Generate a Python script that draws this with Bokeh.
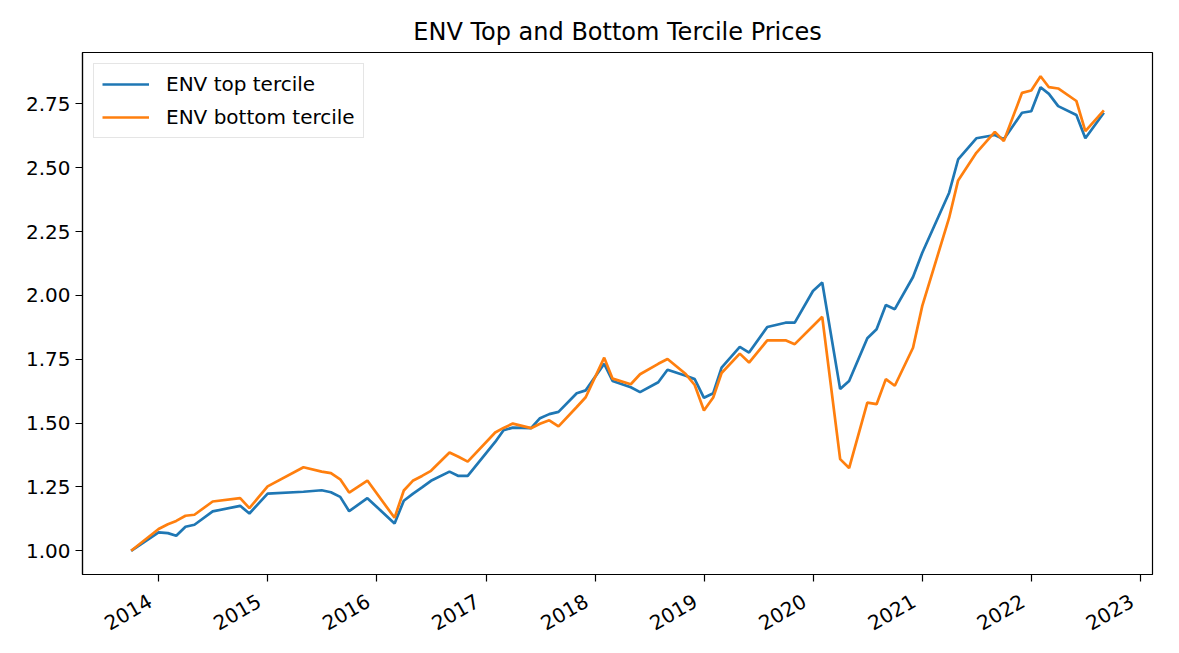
import math
import pandas as pd
from bokeh.plotting import figure
from bokeh.models import Range1d, FixedTicker, DatetimeTickFormatter, NumeralTickFormatter
from bokeh.embed import file_html
from bokeh.resources import INLINE

# ---- data ----
dates = [
    "2013-09-30", "2013-12-31", "2014-01-31", "2014-02-28", "2014-03-31", "2014-04-30",
    "2014-06-30", "2014-09-30", "2014-10-31", "2014-12-31", "2015-04-30", "2015-06-30",
    "2015-07-31", "2015-08-31", "2015-09-30", "2015-11-30", "2016-02-29", "2016-03-31",
    "2016-04-30", "2016-05-31", "2016-06-30", "2016-08-31", "2016-09-30", "2016-10-31",
    "2017-01-31", "2017-02-28", "2017-03-31", "2017-05-31", "2017-06-30", "2017-07-31",
    "2017-08-31", "2017-10-31", "2017-11-30", "2018-01-31", "2018-02-28", "2018-04-30",
    "2018-05-31", "2018-07-31", "2018-08-31", "2018-10-31", "2018-11-30", "2018-12-31",
    "2019-01-31", "2019-02-28", "2019-04-30", "2019-05-31", "2019-07-31", "2019-09-30",
    "2019-10-31", "2019-12-31", "2020-01-31", "2020-03-31", "2020-04-30", "2020-06-30",
    "2020-07-31", "2020-08-31", "2020-09-30", "2020-11-30", "2020-12-31", "2021-03-31",
    "2021-04-30", "2021-06-30", "2021-08-31", "2021-09-30", "2021-11-30", "2021-12-31",
    "2022-01-31", "2022-02-28", "2022-03-31", "2022-05-31", "2022-06-30", "2022-08-31",
]

env_top = [
    1.000, 1.072, 1.069, 1.059, 1.094, 1.102,
    1.154, 1.176, 1.146, 1.224, 1.231, 1.237,
    1.229, 1.211, 1.155, 1.206, 1.107, 1.196,
    1.223, 1.248, 1.274, 1.310, 1.293, 1.293,
    1.426, 1.472, 1.482, 1.480, 1.519, 1.535,
    1.544, 1.617, 1.628, 1.732, 1.665, 1.640,
    1.621, 1.660, 1.709, 1.685, 1.672, 1.599,
    1.617, 1.717, 1.798, 1.776, 1.876, 1.893,
    1.893, 2.017, 2.050, 1.633, 1.665, 1.832,
    1.867, 1.962, 1.946, 2.072, 2.167, 2.402,
    2.532, 2.615, 2.628, 2.611, 2.715, 2.721,
    2.815, 2.789, 2.741, 2.706, 2.615, 2.715,
]

env_bottom = [
    1.000, 1.085, 1.104, 1.117, 1.137, 1.141,
    1.193, 1.206, 1.167, 1.252, 1.327, 1.310,
    1.304, 1.280, 1.228, 1.275, 1.129, 1.236,
    1.274, 1.293, 1.313, 1.385, 1.368, 1.349,
    1.463, 1.481, 1.498, 1.480, 1.497, 1.511,
    1.487, 1.563, 1.601, 1.756, 1.674, 1.652,
    1.691, 1.732, 1.751, 1.692, 1.649, 1.549,
    1.600, 1.696, 1.772, 1.737, 1.824, 1.824,
    1.809, 1.880, 1.916, 1.359, 1.324, 1.580,
    1.574, 1.672, 1.646, 1.795, 1.959, 2.304,
    2.450, 2.558, 2.640, 2.604, 2.793, 2.802,
    2.858, 2.815, 2.810, 2.761, 2.643, 2.724,
]

tick_years = [2014, 2015, 2016, 2017, 2018, 2019, 2020, 2021, 2022, 2023]
y_ticks = [1.00, 1.25, 1.50, 1.75, 2.00, 2.25, 2.50, 2.75]
series_labels = ["ENV top tercile", "ENV bottom tercile"]
title_text = "ENV Top and Bottom Tercile Prices"

# ---- build ----
x = pd.to_datetime(dates)
x_ms = [(d - pd.Timestamp("1970-01-01")).total_seconds() * 1000.0 for d in x]
span = x_ms[-1] - x_ms[0]
x_start, x_end = x_ms[0] - 0.05 * span, x_ms[-1] + 0.05 * span
all_y = env_top + env_bottom
ymin, ymax = min(all_y), max(all_y)
yspan = ymax - ymin

FONT = "DejaVu Sans"

p = figure(
    width=1163, height=652,
    x_axis_type="datetime",
    output_backend="svg", toolbar_location=None,
    min_border_left=82, min_border_right=11, min_border_top=52, min_border_bottom=78,
    title=title_text,
)
p.x_range = Range1d(x_start, x_end)
p.y_range = Range1d(ymin - 0.05 * yspan, ymax + 0.05 * yspan)

p.line(x, env_top, line_color="#1f77b4", line_width=2.7, legend_label=series_labels[0])
p.line(x, env_bottom, line_color="#ff7f0e", line_width=2.7, legend_label=series_labels[1])

p.title.align = "center"
p.title.text_font = FONT
p.title.text_font_size = "24px"
p.title.text_font_style = "normal"
p.title.text_color = "black"
p.title.standoff = 13

p.xgrid.visible = False
p.ygrid.visible = False
p.outline_line_color = "black"
p.outline_line_width = 1.2
p.background_fill_color = "white"
p.border_fill_color = "white"

year_ticks = [(pd.Timestamp(f"{yr}-01-01") - pd.Timestamp("1970-01-01")).total_seconds() * 1000.0 for yr in tick_years]
p.xaxis.ticker = FixedTicker(ticks=year_ticks)
p.xaxis.formatter = DatetimeTickFormatter(
    years="%Y", months="%Y", days="%Y", hours="%Y", hourmin="%Y", minutes="%Y",
    minsec="%Y", seconds="%Y", milliseconds="%Y", microseconds="%Y",
)
# trailing en-space nudges the rotated label so its end sits left of the tick (like ha="right")
p.xaxis.major_label_overrides = {t: f"{yr}\u2002" for t, yr in zip(year_ticks, tick_years)}
p.xaxis.major_label_orientation = math.pi / 6
p.yaxis.ticker = FixedTicker(ticks=y_ticks)
p.yaxis.formatter = NumeralTickFormatter(format="0.00")

for ax in (p.xaxis, p.yaxis):
    ax.major_label_text_font = FONT
    ax.major_label_text_font_size = "20px"
    ax.major_label_text_color = "black"
    ax.axis_line_color = "black"
    ax.axis_line_width = 1.2
    ax.major_tick_line_color = "black"
    ax.major_tick_line_width = 1.2
    ax.major_tick_out = 7
    ax.major_tick_in = 0
    ax.minor_tick_out = 0
    ax.minor_tick_in = 0
p.yaxis.major_label_standoff = 5
p.xaxis.major_label_standoff = 13

leg = p.legend[0]
leg.location = "top_left"
leg.margin = 11
leg.padding = 8
leg.spacing = 9
leg.glyph_width = 47
leg.glyph_height = 20
leg.label_height = 20
leg.label_standoff = 17
leg.label_text_font = FONT
leg.label_text_font_size = "20px"
leg.label_text_color = "black"
leg.border_line_color = "#cccccc"
leg.border_line_width = 1.2
leg.background_fill_alpha = 0.8

open("out.html", "w").write(file_html(p, INLINE))
